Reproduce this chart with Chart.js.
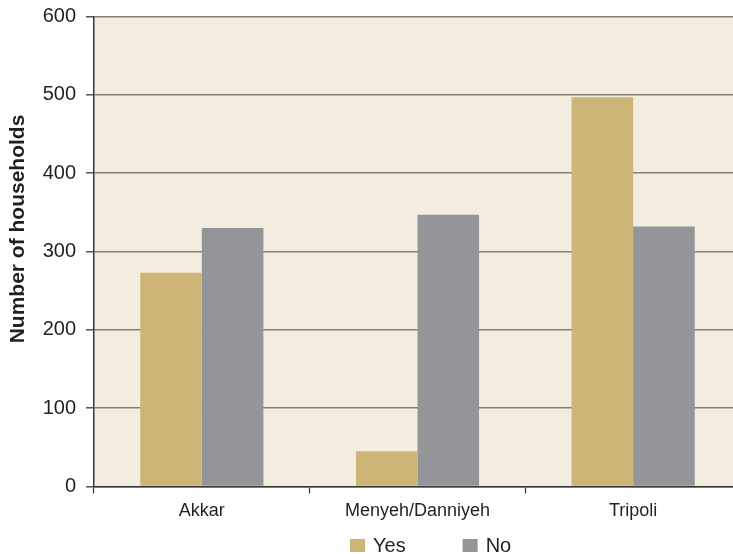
<!DOCTYPE html>
<html>
<head>
<meta charset="utf-8">
<script src="https://cdn.jsdelivr.net/npm/chart.js@4/dist/chart.umd.min.js"></script>
<style>
  html, body { margin: 0; padding: 0; background: #ffffff; overflow: hidden; }
  #wrap { position: absolute; left: 0; top: 0; width: 741px; height: 554px; }
</style>
</head>
<body>
<div id="wrap"><canvas id="chart" width="741" height="554"></canvas></div>
<script>
// Households answering Yes / No, by district
const districts = ['Akkar', 'Menyeh/Danniyeh', 'Tripoli'];
const yesValues = [273, 45, 497];
const noValues = [330, 347, 332];
const seriesNames = ['Yes', 'No'];
const seriesColors = ['#cdb577', '#939598'];
const yTicks = [0, 100, 200, 300, 400, 500, 600];
const yTitle = 'Number of households';

const FONT = "'Liberation Sans', Arial, Helvetica, sans-serif";
const INK = '#231f20';
const AXIS = '#3a3836';
const PLOT_BG = '#f3ede0';
const GRID = '#857f77';
const LEGEND_H = 30;

// cream plot background, rotated y-axis title and the series key
const plotDecor = {
  id: 'plotDecor',
  beforeDraw(chart) {
    const { ctx, chartArea: a } = chart;
    ctx.save();
    ctx.fillStyle = PLOT_BG;
    ctx.fillRect(a.left, a.top, a.right - a.left, a.bottom - a.top);
    ctx.restore();
  },
  afterDraw(chart) {
    const { ctx } = chart;
    ctx.save();
    ctx.translate(18.5, 229);
    ctx.rotate(-Math.PI / 2);
    ctx.font = 'bold 21px ' + FONT;
    ctx.fillStyle = INK;
    ctx.textAlign = 'center';
    ctx.textBaseline = 'middle';
    ctx.fillText(yTitle, 0, 0);
    ctx.restore();

    // key: swatch + name for each dataset
    ctx.save();
    ctx.font = '20px ' + FONT;
    ctx.textAlign = 'left';
    ctx.textBaseline = 'middle';
    const cy = 545.5;
    let x = 350;
    chart.data.datasets.forEach((ds) => {
      ctx.fillStyle = ds.backgroundColor;
      ctx.fillRect(x, cy - 6.5, 15, 13);
      ctx.fillStyle = INK;
      ctx.fillText(ds.label, x + 23, cy + 1);
      x += 23 + ctx.measureText(ds.label).width + 57;
    });
    ctx.restore();
  }
};

new Chart(document.getElementById('chart'), {
  type: 'bar',
  data: {
    labels: districts,
    datasets: [
      { label: seriesNames[0], data: yesValues, backgroundColor: seriesColors[0] },
      { label: seriesNames[1], data: noValues, backgroundColor: seriesColors[1] }
    ]
  },
  options: {
    responsive: false,
    devicePixelRatio: 1,
    animation: false,
    layout: { padding: { left: 0, right: 0, top: 16.5, bottom: LEGEND_H } },
    datasets: { bar: { categoryPercentage: 0.571, barPercentage: 1.0 } },
    plugins: {
      tooltip: { enabled: false },
      legend: { display: false }
    },
    scales: {
      x: {
        offset: true,
        grid: {
          offset: true,
          drawOnChartArea: false,
          drawTicks: true,
          tickLength: 7,
          tickColor: AXIS,
          tickWidth: 1.3
        },
        border: { color: AXIS, width: 1.5 },
        ticks: { color: INK, padding: 7, font: { family: FONT, size: 18 } },
        afterFit(scale) { scale.height = 554 - 486.5 - LEGEND_H; }
      },
      y: {
        min: 0, max: 600,
        afterBuildTicks(scale) { scale.ticks = yTicks.map(v => ({ value: v })); },
        grid: {
          color: GRID,
          lineWidth: 1.6,
          tickLength: 8,
          tickColor: AXIS,
          tickWidth: 1.3
        },
        border: { color: AXIS, width: 1.5 },
        ticks: { color: INK, padding: 10, font: { family: FONT, size: 20 } },
        afterFit(scale) {
          scale.width = 94;
          scale.paddingTop = 0;
          scale.paddingBottom = 0;
        }
      }
    }
  },
  plugins: [plotDecor]
});
</script>
</body>
</html>
